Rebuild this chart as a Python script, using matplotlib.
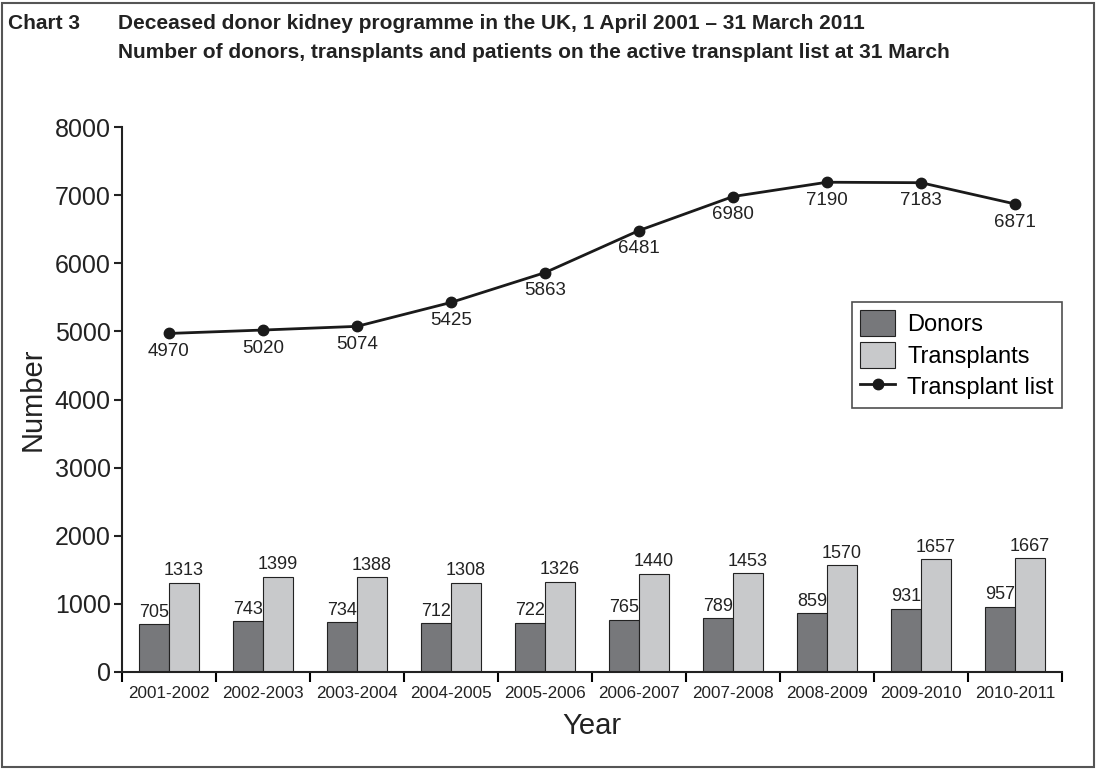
import numpy as np
import matplotlib
matplotlib.use("Agg")
import matplotlib.pyplot as plt
from matplotlib.patches import Rectangle
from matplotlib.lines import Line2D
from matplotlib.patches import Patch

plt.rcParams['font.family'] = ['Liberation Sans', 'DejaVu Sans']

# data
years = ['2001-2002', '2002-2003', '2003-2004', '2004-2005', '2005-2006',
         '2006-2007', '2007-2008', '2008-2009', '2009-2010', '2010-2011']
donors = [705, 743, 734, 712, 722, 765, 789, 859, 931, 957]
transplants = [1313, 1399, 1388, 1308, 1326, 1440, 1453, 1570, 1657, 1667]
transplant_list = [4970, 5020, 5074, 5425, 5863, 6481, 6980, 7190, 7183, 6871]

dark = '#77787b'
light = '#c8c9cb'

fig = plt.figure(figsize=(10.96, 7.7), dpi=100)
ax = fig.add_axes([0.1113, 0.1273, 0.8577, 0.7077])

x = np.arange(len(years))
w = 0.32
ax.bar(x - w / 2, donors, w, color=dark, edgecolor='#222222', linewidth=0.8)
ax.bar(x + w / 2, transplants, w, color=light, edgecolor='#222222', linewidth=0.8)

for xi, v in zip(x, donors):
    ax.text(xi - w / 2, v + 50, str(v), ha='center', va='bottom', fontsize=13, color='#222222')
for xi, v in zip(x, transplants):
    ax.text(xi + w / 2, v + 50, str(v), ha='center', va='bottom', fontsize=13, color='#222222')

ax.plot(x, transplant_list, color='#1a1a1a', linewidth=2, marker='o', markersize=7.5)
for xi, v in zip(x, transplant_list):
    ax.annotate(str(v), (xi, v), xytext=(0, -7), textcoords='offset points',
                ha='center', va='top', fontsize=13.5, color='#222222')

ax.set_xlim(-0.5, len(years) - 0.5)
ax.set_ylim(0, 8000)
ax.set_yticks(range(0, 8001, 1000))
ax.tick_params(axis='y', labelsize=18, length=6, width=1.5, colors='#222222', pad=2)
ax.set_xticks(np.arange(-0.5, len(years), 1))
ax.set_xticklabels([])
ax.set_xticks(x, minor=True)
ax.set_xticklabels(years, minor=True, fontsize=12.3, color='#222222')
ax.tick_params(axis='x', which='major', length=7, width=1.5)
ax.tick_params(axis='x', which='minor', length=0, pad=10)

for s in ['top', 'right']:
    ax.spines[s].set_visible(False)
for s in ['left', 'bottom']:
    ax.spines[s].set_linewidth(1.5)
    ax.spines[s].set_color('#222222')

ax.set_ylabel('Number', fontsize=21, color='#222222', labelpad=6)
ax.set_xlabel('Year', fontsize=21, color='#222222', labelpad=8)

handles = [Patch(facecolor=dark, edgecolor='#222222', linewidth=0.8),
           Patch(facecolor=light, edgecolor='#222222', linewidth=0.8),
           Line2D([], [], color='#1a1a1a', linewidth=2, marker='o', markersize=7.5)]
leg = ax.legend(handles, ['Donors', 'Transplants', 'Transplant list'],
                loc='upper right', bbox_to_anchor=(1.0, 0.679), borderaxespad=0,
                fontsize=17, frameon=True, fancybox=False, edgecolor='#222222',
                handlelength=1.5, handleheight=1.3, handletextpad=0.5,
                labelspacing=0.25, borderpad=0.35)
leg.get_frame().set_linewidth(1.2)

title_kw = dict(fontsize=15, fontweight='bold', color='#222222', va='center')
fig.text(0.0075, 0.970, 'Chart 3', **title_kw)
fig.text(0.1075, 0.970, 'Deceased donor kidney programme in the UK, 1 April 2001 \u2013 31 March 2011',
         **title_kw)
fig.text(0.1075, 0.932, 'Number of donors, transplants and patients on the active transplant list at 31 March',
         **title_kw)

fig.patches.append(Rectangle((0.002, 0.004), 0.996, 0.992, transform=fig.transFigure,
                             fill=False, edgecolor='#555555', linewidth=1.5))

fig.savefig('out.png', dpi=100)
